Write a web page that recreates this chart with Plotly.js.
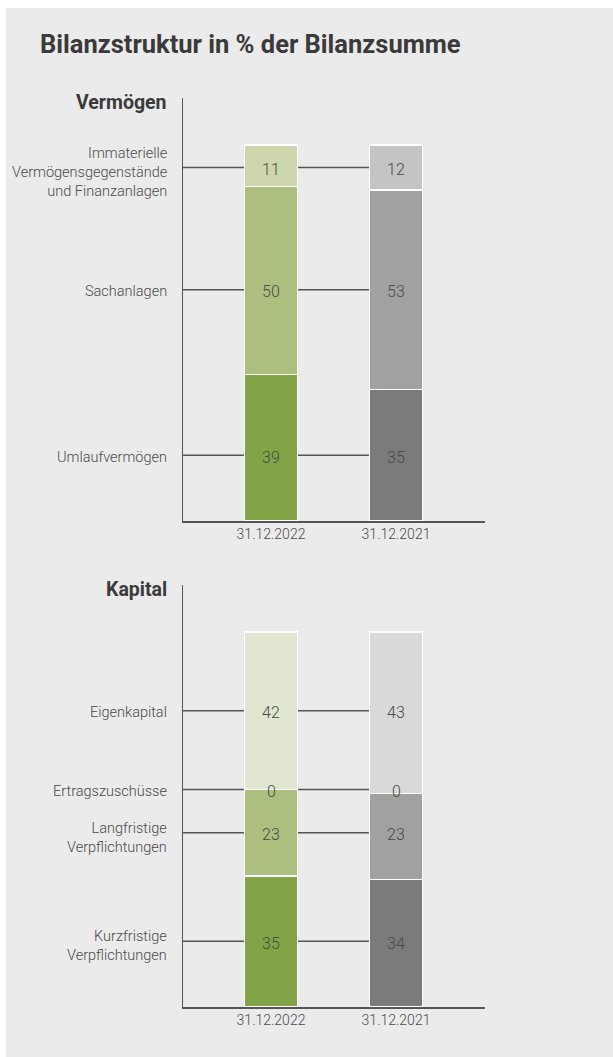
<!DOCTYPE html>
<html>
<head>
<meta charset="utf-8">
<script src="https://cdn.plot.ly/plotly-3.0.1.min.js"></script>
<style>
  html, body { margin: 0; padding: 0; background: #ffffff; }
  #chart { position: absolute; left: 6px; top: 8px; width: 607px; height: 1049px; }
</style>
</head>
<body>
<div id="chart"></div>
<script>
// ---- data ----
const categories = ["31.12.2022", "31.12.2021"];

// Vermögen (stack order bottom -> top)
const assetLabels = ["Umlaufvermögen", "Sachanlagen", "Immaterielle<br>Vermögensgegenstände<br>und Finanzanlagen"];
const assets2022 = [39, 50, 11];
const assets2021 = [35, 53, 12];

// Kapital (stack order bottom -> top)
const capitalLabels = ["Kurzfristige<br>Verpflichtungen", "Langfristige<br>Verpflichtungen", "Ertragszuschüsse", "Eigenkapital"];
const capital2022 = [35, 23, 0, 42];
const capital2021 = [34, 23, 0, 43];

const panelTitles = ["Vermögen", "Kapital"];
const chartTitle = "Bilanzstruktur in % der Bilanzsumme";

// ---- styles ----
const greens = ["#82a447", "#adbf7e", "#cdd6ad"];
const grays  = ["#7b7b7b", "#a0a2a0", "#c4c4c4"];
const greensK = ["#82a447", "#adbf7e", "#adbf7e", "#e1e6d1"];
const graysK  = ["#7b7b7b", "#a0a2a0", "#a0a2a0", "#d9d9d9"];

const FONT = 'Roboto, sans-serif';
const BOLD = 'Roboto, "Open Sans", sans-serif';
const TXT = '#4a4a4a';
const AXC = '#555555';
const XR = [-0.704, 1.712];
const YR = [0, 112.5];
const BARW = 0.424;

const traces = [];
const shapes = [];
const annotations = [];

function segCenters(vals) {
  const out = []; let acc = 0;
  vals.forEach(v => { out.push(acc + v / 2); acc += v; });
  return out;
}

function addPanel(labels, v22, v21, c22, c21, xa, ya, labelSource) {
  labels.forEach((lab, i) => {
    traces.push({
      type: 'bar', x: categories, y: [v22[i], v21[i]],
      xaxis: xa, yaxis: ya, width: BARW,
      marker: { color: [c22[i], c21[i]], line: { color: '#ffffff', width: 1.5 } },
      hoverinfo: 'skip', showlegend: false
    });
  });
  const centers = segCenters(labelSource);
  labels.forEach((lab, i) => {
    const yc = centers[i];
    const multi = lab.indexOf('<br>') >= 0;
    shapes.push({ type: 'line', xref: xa, yref: ya, x0: XR[0], x1: 1, y0: yc, y1: yc,
      line: { color: AXC, width: 1.5 }, layer: 'below' });
    annotations.push({ xref: xa + ' domain', yref: ya, x: 0, y: yc, xanchor: 'right', yanchor: 'middle',
      xshift: -14, yshift: multi ? -5 : -2, text: lab, align: 'right', showarrow: false,
      font: { family: FONT, size: 14.5, weight: 300, color: TXT } });
    annotations.push({ xref: xa, yref: ya, x: 0, y: yc, yshift: -2, text: String(v22[i]), showarrow: false,
      yanchor: 'middle', font: { family: FONT, size: 16, weight: 300, color: TXT } });
    annotations.push({ xref: xa, yref: ya, x: 1, y: yc, yshift: -2, text: String(v21[i]), showarrow: false,
      yanchor: 'middle', font: { family: FONT, size: 16, weight: 300, color: TXT } });
  });
}

addPanel(assetLabels, assets2022, assets2021, greens, grays, 'x', 'y', assets2021);
addPanel(capitalLabels, capital2022, capital2021, greensK, graysK, 'x2', 'y2', capital2022);

['y', 'y2'].forEach((ya, k) => {
  annotations.push({ xref: (k === 0 ? 'x' : 'x2') + ' domain', yref: ya + ' domain', x: 0, y: 1,
    xanchor: 'right', yanchor: 'middle', xshift: -14, yshift: -4,
    text: '<b>' + panelTitles[k] + '</b>', showarrow: false,
    font: { family: BOLD, size: 19.5, color: '#3a3a3a' } });
});

const xaxisBase = {
  range: XR, showline: true, linecolor: AXC, linewidth: 1.5, showgrid: false, zeroline: false,
  ticks: '', tickfont: { family: FONT, size: 14, weight: 300, color: TXT }, fixedrange: true
};
const yaxisBase = {
  range: YR, showline: true, linecolor: AXC, linewidth: 1.5, showgrid: false, zeroline: false,
  showticklabels: false, ticks: '', fixedrange: true
};

const layout = {
  width: 607, height: 1049,
  paper_bgcolor: '#ebebeb', plot_bgcolor: 'rgba(0,0,0,0)',
  margin: { l: 177, r: 128, t: 90, b: 50 },
  barmode: 'stack',
  showlegend: false,
  title: { text: '<b>' + chartTitle + '</b>', xref: 'container', yref: 'container',
    x: 0.056, xanchor: 'left', y: 0.966, yanchor: 'middle',
    font: { family: BOLD, size: 25.5, color: '#3a3a3a' } },
  xaxis: Object.assign({}, xaxisBase, { anchor: 'y', domain: [0, 1] }),
  yaxis: Object.assign({}, yaxisBase, { anchor: 'x', domain: [0.5345, 1] }),
  xaxis2: Object.assign({}, xaxisBase, { anchor: 'y2', domain: [0, 1] }),
  yaxis2: Object.assign({}, yaxisBase, { anchor: 'x2', domain: [0, 0.4641] }),
  shapes: shapes,
  annotations: annotations
};

Plotly.newPlot('chart', traces, layout, { displayModeBar: false, staticPlot: true });
</script>
</body>
</html>
